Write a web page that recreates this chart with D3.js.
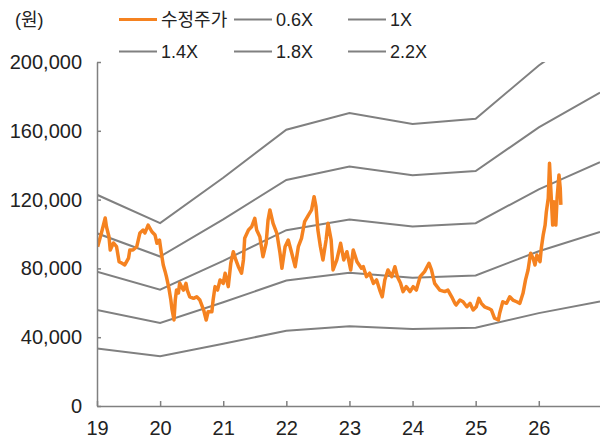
<!DOCTYPE html>
<html>
<head>
<meta charset="utf-8">
<script src="https://cdn.jsdelivr.net/npm/d3@7"></script>
<style>
  body { margin: 0; background: #fff; }
  svg { font-family: "Liberation Sans", Arial, "Noto Sans CJK KR", sans-serif; }
  .axis path, .axis line { stroke: #808080; stroke-width: 1.5; }
  .axis text { fill: #222; font-size: 20px; }
</style>
</head>
<body>
<script>
const width = 600,
    height = 441;

// band anchor years (x) and PBR band values (won)
const bandYears = [19, 20, 21, 22, 23, 24, 25, 26, 26.97];
const band06 = [33500, 29000, 36200, 43800, 46400, 44700, 45500, 54000, 60700];
const band10 = [55800, 48300, 60300, 73000, 77400, 74500, 75900, 90000, 101200];
const band14 = [78100, 67600, 84400, 102200, 108400, 104300, 106300, 126000, 141700];
const band18 = [100400, 86900, 108500, 131400, 139300, 134100, 136600, 162000, 182200];
const band22 = [122800, 106300, 132700, 160600, 170300, 163900, 167000, 198000, 222600];

// adjusted price: [year, won]
const price = [
  [19.01, 92600], [19.07, 100600], [19.13, 109300], [19.15, 104200], [19.19, 98400],
  [19.21, 90700], [19.26, 94800], [19.31, 92600], [19.35, 83900], [19.39, 83100],
  [19.44, 82000], [19.50, 86000], [19.52, 90700], [19.57, 90700], [19.63, 92600],
  [19.68, 100600], [19.73, 102300], [19.76, 100600], [19.81, 105200], [19.87, 101300],
  [19.92, 99400], [19.95, 94600], [19.99, 96500], [20.02, 88800], [20.05, 82000],
  [20.08, 78100], [20.10, 75200], [20.14, 68400], [20.17, 61600], [20.19, 55800],
  [20.22, 50000], [20.24, 61600], [20.26, 67400], [20.29, 65700], [20.31, 71500],
  [20.35, 68600], [20.37, 67400], [20.41, 71300], [20.43, 67400], [20.47, 63500],
  [20.53, 62600], [20.58, 63500], [20.63, 61600], [20.66, 58700], [20.69, 55800],
  [20.73, 50000], [20.76, 54800], [20.82, 54800], [20.84, 61600], [20.87, 69400],
  [20.91, 67400], [20.95, 73300], [21.00, 71300], [21.03, 77200], [21.08, 69400],
  [21.12, 83000], [21.16, 89700], [21.20, 84900], [21.24, 81000], [21.29, 77200],
  [21.32, 84900], [21.34, 97500], [21.40, 102300], [21.45, 104200], [21.50, 109100],
  [21.53, 102300], [21.58, 98400], [21.63, 86800], [21.68, 94600], [21.71, 108100],
  [21.74, 114000], [21.79, 106200], [21.85, 100400], [21.90, 88800], [21.93, 80100],
  [21.98, 92600], [22.03, 96500], [22.08, 89700], [22.14, 81000], [22.19, 92600],
  [22.24, 97500], [22.29, 107200], [22.35, 111000], [22.40, 114000], [22.44, 121700],
  [22.47, 115900], [22.50, 102300], [22.54, 92600], [22.58, 84900], [22.63, 96500],
  [22.66, 106200], [22.71, 96500], [22.74, 79100], [22.80, 84900], [22.86, 94600],
  [22.91, 84900], [22.96, 89700], [23.02, 79100], [23.06, 90700], [23.12, 83900],
  [23.19, 80100], [23.22, 81000], [23.27, 75200], [23.32, 77200], [23.38, 71300],
  [23.43, 73300], [23.48, 67400], [23.52, 63500], [23.56, 73300], [23.61, 79100],
  [23.67, 75200], [23.72, 81000], [23.76, 75200], [23.81, 71300], [23.85, 66500],
  [23.90, 69400], [23.96, 66500], [24.01, 69400], [24.06, 67400], [24.12, 75200],
  [24.19, 78100], [24.26, 83000], [24.30, 79100], [24.35, 71300], [24.43, 67400],
  [24.51, 66500], [24.56, 67400], [24.62, 63500], [24.67, 59700], [24.69, 58700],
  [24.75, 61600], [24.80, 60600], [24.86, 57700], [24.91, 59700], [24.96, 55800],
  [25.01, 57700], [25.05, 62600], [25.09, 59700], [25.14, 57700], [25.20, 56800],
  [25.25, 55800], [25.30, 51000], [25.36, 50000], [25.38, 53900], [25.43, 60600],
  [25.49, 59700], [25.54, 63500], [25.59, 61600], [25.65, 60600], [25.70, 59700],
  [25.75, 65500], [25.79, 73300], [25.83, 79100], [25.87, 88800], [25.91, 85900],
  [25.94, 82000], [25.97, 87800], [26.02, 83900], [26.04, 91700], [26.07, 99400],
  [26.10, 105200], [26.12, 113000], [26.15, 120800], [26.17, 141100], [26.19, 126600],
  [26.22, 105200], [26.24, 118800], [26.27, 105200], [26.29, 120800], [26.32, 134300],
  [26.34, 126600], [26.35, 116900]
];

const yTicks = [0, 40000, 80000, 120000, 160000, 200000];
const xTicks = [19, 20, 21, 22, 23, 24, 25, 26];

const legendItems = [
  {label: '수정주가', color: '#F58220', w: 3},
  {label: '0.6X', color: '#808080', w: 2},
  {label: '1X', color: '#808080', w: 2},
  {label: '1.4X', color: '#808080', w: 2},
  {label: '1.8X', color: '#808080', w: 2},
  {label: '2.2X', color: '#808080', w: 2}
];

const margin = {left: 97, right: 0, top: 62, bottom: 35};

var x = d3.scaleLinear().domain([19, 26.97]).range([margin.left, width - margin.right]);
var y = d3.scaleLinear().domain([0, 200000]).range([height - margin.bottom, margin.top]);

var svg = d3.select("body").append("svg")
    .attr("width", width)
    .attr("height", height);

svg.append('defs').append('clipPath')
    .attr('id', 'plot-clip')
  .append('rect')
    .attr('x', margin.left).attr('y', margin.top)
    .attr('width', width - margin.left).attr('height', height - margin.bottom - margin.top);

var plot = svg.append('g').attr('clip-path', 'url(#plot-clip)');

var line = d3.line().x(d => x(d[0])).y(d => y(d[1]));

[band06, band10, band14, band18, band22].forEach(b => {
  plot.append('path')
      .datum(bandYears.map((yr, i) => [yr, b[i]]))
      .attr('d', line)
      .attr('fill', 'none')
      .attr('stroke', '#808080')
      .attr('stroke-width', 2);
});

plot.append('path')
    .datum(price)
    .attr('d', line)
    .attr('fill', 'none')
    .attr('stroke', '#F58220')
    .attr('stroke-width', 3.5)
    .attr('stroke-linejoin', 'round');

// axes
svg.append('g')
    .attr('class', 'axis')
    .attr('transform', `translate(${margin.left},0)`)
    .call(d3.axisLeft(y).tickValues(yTicks).tickFormat(d3.format(','))
      .tickSize(-4).tickSizeOuter(0).tickPadding(15));

svg.append('g')
    .attr('class', 'axis')
    .attr('transform', `translate(0,${height - margin.bottom})`)
    .call(d3.axisBottom(x).tickValues(xTicks).tickFormat(d => d)
      .tickSize(-5).tickSizeOuter(0).tickPadding(15));

// unit label
svg.append('text')
    .attr('x', 15).attr('y', 26)
    .attr('font-size', 18).attr('fill', '#222')
    .text('(원)');

// legend
var lx = [119, 234, 348], ly = [19.5, 51.5];
legendItems.forEach((d, i) => {
  var gx = lx[i % 3], gy = ly[Math.floor(i / 3)];
  svg.append('line')
      .attr('x1', gx).attr('x2', gx + 38)
      .attr('y1', gy).attr('y2', gy)
      .attr('stroke', d.color).attr('stroke-width', d.w);
  svg.append('text')
      .attr('x', gx + 42).attr('y', gy + 6.5)
      .attr('font-size', 18).attr('fill', '#222')
      .text(d.label);
});
</script>
</body>
</html>
